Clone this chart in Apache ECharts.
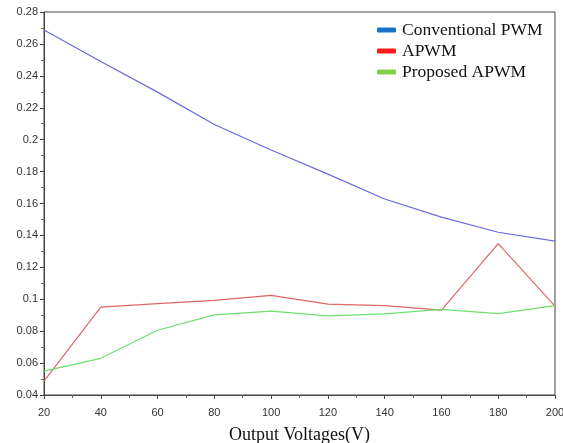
<!DOCTYPE html>
<html>
<head>
<meta charset="utf-8">
<script src="https://cdn.jsdelivr.net/npm/echarts@6/dist/echarts.min.js"></script>
<style>html,body{margin:0;padding:0;background:#fff;}#c{width:563px;height:443px;}</style>
</head>
<body>
<div id="c"></div>
<script>
const voltages = [20, 40, 60, 80, 100, 120, 140, 160, 180, 200];
const conventionalPWM = [0.2687, 0.249, 0.2298, 0.2095, 0.1935, 0.1784, 0.1628, 0.1515, 0.142, 0.1364];
const apwm = [0.0487, 0.0951, 0.0972, 0.0993, 0.1024, 0.0970, 0.0960, 0.0932, 0.1348, 0.0957];
const proposedAPWM = [0.0550, 0.0630, 0.0806, 0.0902, 0.0925, 0.0896, 0.0908, 0.0936, 0.0910, 0.0960];
const seriesNames = ['Conventional PWM', 'APWM', 'Proposed APWM'];

const chart = echarts.init(document.getElementById('c'));
const pair = arr => voltages.map((v, i) => [v, arr[i]]);
const lineColors = ['#6a6ae0', '#e06666', '#6ee06e'];
const legendColors = ['#1a72c8', '#ff1a1a', '#86d046'];
const allData = [conventionalPWM, apwm, proposedAPWM];

chart.setOption({
  animation: false,
  backgroundColor: '#fff',
  grid: { left: 44, right: 8, top: 12, bottom: 48, outerBoundsMode: 'none', containLabel: false, show: true, borderColor: '#444', borderWidth: 1, backgroundColor: 'transparent' },
  legend: {
    orient: 'vertical',
    left: 372,
    top: 16,
    itemWidth: 19,
    itemHeight: 5,
    itemGap: 3,
    icon: 'roundRect',
    textStyle: { fontFamily: 'Liberation Serif, Times New Roman, serif', fontSize: 17.5, color: '#111', padding: [0, 0, 0, 1] },
    data: seriesNames.map((n, i) => ({ name: n, itemStyle: { color: legendColors[i] } }))
  },
  xAxis: {
    type: 'value',
    min: 20, max: 200, interval: 20,
    name: 'Output Voltages(V)',
    nameLocation: 'middle',
    nameGap: 31,
    nameTextStyle: { fontFamily: 'Liberation Serif, Times New Roman, serif', fontSize: 18, color: '#111' },
    axisLine: { show: true, lineStyle: { color: '#444' } },
    axisTick: { show: true, length: 4, lineStyle: { color: '#444' } },
    minorTick: { show: true, splitNumber: 2, length: 3, lineStyle: { color: '#666' } },
    axisLabel: { fontFamily: 'Arial, Liberation Sans, sans-serif', fontSize: 11, color: '#333', margin: 12 },
    splitLine: { show: false }
  },
  yAxis: {
    type: 'value',
    min: 0.04, max: 0.28, interval: 0.02,
    axisLine: { show: true, lineStyle: { color: '#444' } },
    axisTick: { show: true, length: 4, lineStyle: { color: '#444' } },
    minorTick: { show: true, splitNumber: 2, length: 3, lineStyle: { color: '#666' } },
    axisLabel: { fontFamily: 'Arial, Liberation Sans, sans-serif', fontSize: 11, color: '#333', margin: 6 },
    splitLine: { show: false }
  },
  series: seriesNames.map((n, i) => ({
    name: n,
    type: 'line',
    data: pair(allData[i]),
    symbol: 'none',
    lineStyle: { color: lineColors[i], width: 1.2 },
    itemStyle: { color: legendColors[i] }
  }))
});
</script>
</body>
</html>
